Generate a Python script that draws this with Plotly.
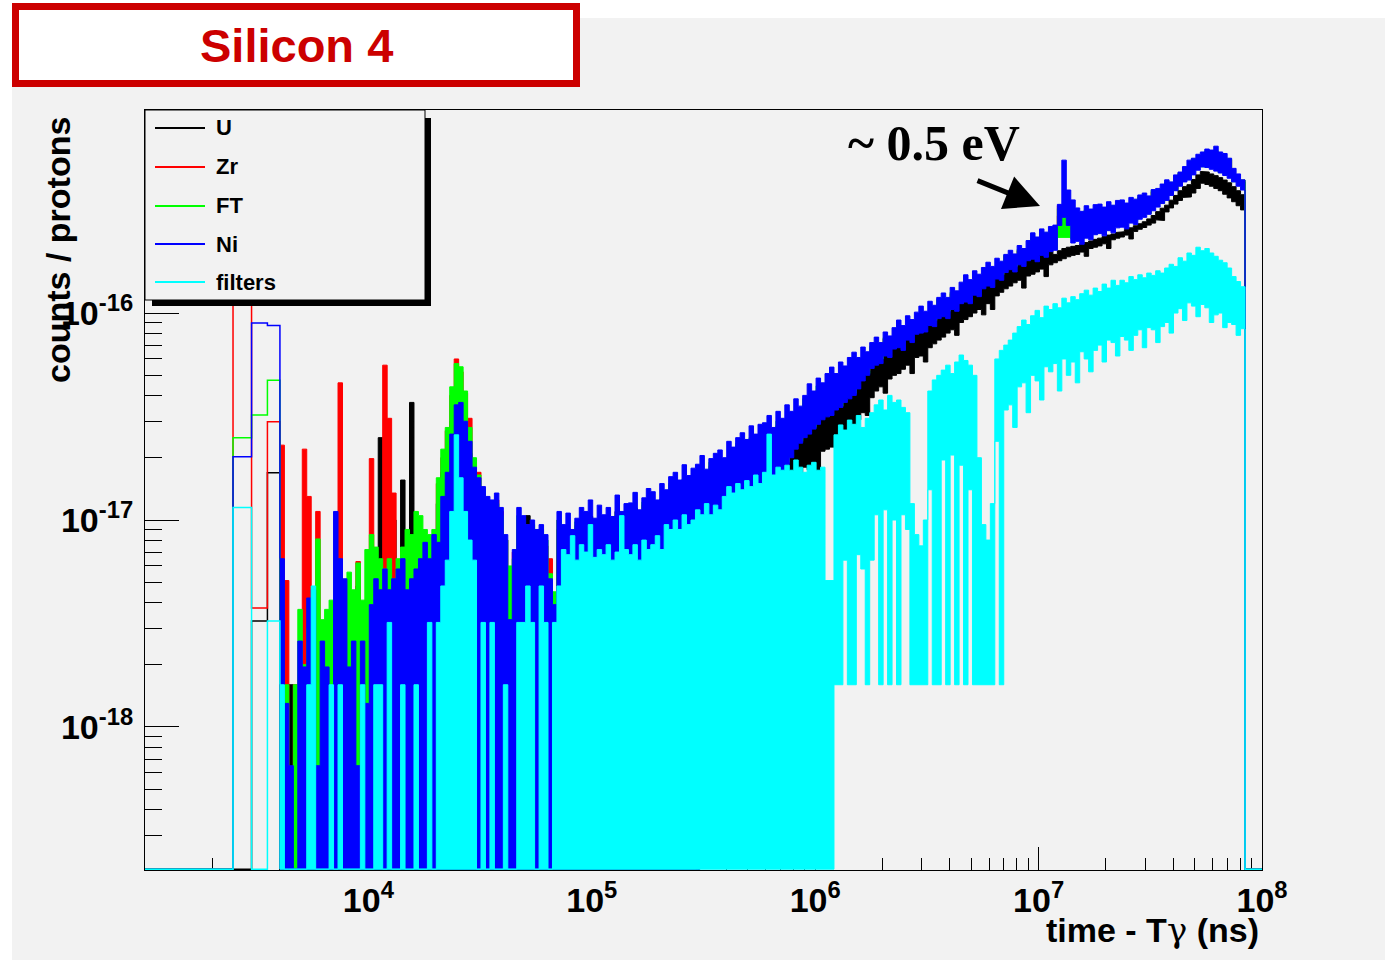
import plotly.graph_objects as go

# ---------------------------------------------------------------------------
# DATA  (all values: counts / protons in units of 1e-18; 0 = empty bin)
# ---------------------------------------------------------------------------
SERIES_NAMES = ["U", "Zr", "FT", "Ni", "filters"]
SERIES_COLORS = ["#000000", "#ff0000", "#00ff00", "#0000ff", "#00ffff"]
UNIT = 1e-18

# bin edges, log10(time - Tgamma [ns])
WIDE_EDGES = [3.394, 3.477, 3.548, 3.604]     # three wide first bins
FINE_START = 3.604                             # then a regular grid
FINE_STEP = 0.02
N_SPIKY = 63                                   # low-count region
N_BAND = 153                                   # dense band region
COARSE_GROUP = 3                               # Zr / FT band values span 3 fine bins

u_wide = [0, 3.25, 16.9]
zr_wide = [180, 3.76, 29.8]
ft_wide = [25, 32.2, 47.4]
ni_wide = [20.2, 89.5, 87.0]
filters_wide = [11.5, 0, 3.25]

u_spiky = [1.6, 0, 1.6, 0, 1.6, 1.6, 3.2, 1.6, 3.2, 1.6,
           3.2, 1.6, 3.2, 6.1, 4.8, 3.2, 1.6, 4.8, 3.2, 3.2,
           4.8, 6.4, 25, 4.8, 6.4, 10, 4.8, 15.6, 6.4, 37,
           8, 6.4, 6.4, 8, 8, 12, 17, 22, 30, 40,
           38, 28, 21, 16, 13, 11, 10, 9.5, 10, 9,
           4.8, 1.6, 0, 9, 8, 10.5, 8, 7.5, 8, 6.4,
           1.6, 0, 9]
zr_spiky = [23, 5.1, 0, 1.6, 1.6, 22, 13, 3.3, 11, 2.6,
            3.3, 1.6, 3.3, 46, 3.3, 4.1, 3.3, 6.3, 3.3, 4.1,
            19.8, 5.2, 6.0, 56, 31, 13.5, 5.2, 7.0, 6.0, 6.5,
            7.2, 8.0, 7.5, 8.0, 8.5, 15, 20, 27, 40, 60,
            52, 41, 31, 19, 17, 14, 12, 11.5, 12.5, 11,
            8, 5, 7, 10, 9, 9.5, 9, 8.5, 8.5, 7.5,
            6.5, 4, 10]
ft_spiky = [1.6, 1.6, 0, 1.6, 3.7, 2.0, 3.0, 3.3, 8.1, 3.3,
            3.7, 4.1, 3.3, 4.6, 3.7, 5.6, 4.6, 6.2, 4.1, 7.2,
            8.5, 7.4, 6.5, 5.8, 6.5, 5.2, 6.5, 7.4, 9.0, 8.5,
            11, 10.5, 9, 8.5, 9, 16, 22, 28, 44, 57,
            55, 42, 28, 20, 16.5, 14, 12, 11.5, 12, 10.5,
            8, 6, 6.5, 10.5, 9.5, 9, 9.5, 8.5, 9, 8,
            5.5, 4.5, 10]
ni_spiky = [6.5, 1.3, 0.65, 0, 2.6, 1.95, 4.2, 4.6, 0.65, 2.6,
            1.95, 0, 11, 6.5, 5.2, 1.95, 2.6, 0.65, 2.6, 1.3,
            3.9, 5.2, 4.6, 5.8, 4.6, 5.2, 5.8, 6.5, 4.6, 5.2,
            5.8, 6.5, 7.8, 6.5, 8.5, 7.8, 13, 17, 26, 36,
            37, 30, 24, 18, 16, 14.5, 13, 12.5, 13.5, 11.5,
            8.5, 3.3, 7.2, 11.5, 10.5, 9.5, 10, 9, 9.5, 8.5,
            5.2, 3.9, 11]
filters_spiky = [1.6, 0, 0, 0, 0, 0, 1.6, 4.8, 0, 0,
                 0, 1.6, 0, 1.6, 0, 0, 0, 0, 1.6, 0,
                 0, 1.6, 1.6, 0, 3.2, 0, 0, 1.6, 0, 0,
                 1.6, 0, 0, 3.2, 0, 3.2, 4.8, 6.4, 11, 25.8,
                 16, 11, 8, 6.4, 0, 3.2, 0, 3.2, 0, 0,
                 1.6, 0, 0, 3.2, 3.2, 4.8, 3.2, 0, 4.8, 3.2,
                 0, 3.2, 4.8]

# band region: upper / lower edge of the noise band in each bin
ni_band_hi = [9.5, 10.8, 9.0, 10.2, 11.5, 11.0, 12.5, 10.2, 11.8, 10.6,
              11.5, 10.4, 13.2, 11.0, 12.0, 12.1, 13.6, 11.2, 12.8, 14.2,
              13.7, 12.5, 15.0, 14.0, 16.2, 17.0, 15.6, 18.5, 16.4, 17.8,
              18.6, 20.5, 17.6, 19.8, 21.0, 21.8, 20.0, 24.0, 22.5, 25.0,
              26.4, 24.5, 28.5, 26.0, 29.0, 29.5, 32.0, 28.0, 33.5, 31.0,
              36, 33.5, 38.5, 35.5, 40, 45.5, 42, 48.5, 46, 51,
              54.8, 51, 58, 55.5, 61, 64.7, 61, 68.5, 65, 72,
              76.5, 72, 81, 77.5, 85, 92.5, 87, 97, 93, 101,
              108, 102, 114, 109, 119, 125, 119, 133, 128, 141,
              153, 145, 160, 154, 166, 176, 168, 184, 178, 192,
              201, 193, 212, 205, 224, 244, 233, 255, 246, 262,
              266, 335, 548, 393, 352, 322, 310, 330, 318, 334,
              336, 325, 345, 332, 350, 352, 340, 362, 355, 372,
              380, 368, 395, 400, 420, 440, 430, 465, 480, 510,
              548, 560, 585, 600, 620, 613, 640, 600, 590, 560,
              500, 470, 440]
ni_band_lo = [0] * 31 + [
              3.3, 4.1, 3.3, 4.6, 4.1, 5.2, 4.6, 5.7, 5.2,
              7.2, 6.4, 8.5, 9.5, 8.0, 11, 12.5, 11.5, 14, 16,
              18.5, 20, 22, 23.5, 25, 26, 27.5, 29, 30.5, 31.5,
              32, 34, 35, 37, 38.5, 40, 43, 47, 50, 54,
              56, 57, 62, 61, 67, 68, 66, 74, 72, 79,
              80, 81, 87, 86, 94, 96, 94, 104, 102, 111,
              113, 111, 122, 120, 131, 135, 133, 146, 144, 157,
              162, 158, 171, 168, 179, 182, 177, 190, 186, 198,
              201, 265, 290, 265, 218, 222, 215, 230, 226, 239,
              242, 236, 250, 244, 258, 260, 255, 272, 268, 284,
              290, 300, 312, 325, 338, 350, 370, 390, 410, 430,
              439, 465, 490, 508, 505, 495, 485, 475, 462, 448,
              430, 410, 393]

u_band_hi = [8.2, 9.0, 7.8, 8.8, 9.5, 9.4, 10.4, 8.8, 9.8, 9.0,
             9.8, 9.0, 11.0, 9.4, 10.2, 10.4, 11.4, 9.6, 10.8, 12.0,
             11.6, 10.6, 12.6, 12.0, 13.6, 14.4, 13.2, 15.6, 14.0, 15.0,
             15.8, 17.2, 15.0, 16.8, 17.6, 18.4, 17.0, 20.0, 19.0, 21.0,
             22.0, 20.8, 24.0, 22.0, 24.5, 25.0, 27.0, 23.8, 28.0, 26.5,
             22, 24, 26, 28, 30, 29, 30.5, 32, 33.5, 35,
             35.5, 37.5, 38.5, 40.5, 42.5, 44, 47, 52, 55, 59,
             62, 65, 68, 71.5, 74, 75, 78, 81, 85, 87,
             88, 92, 96, 100, 103, 106, 110, 114, 119, 122,
             124, 129, 134, 140, 144, 148, 154, 160, 167, 173,
             178, 184, 188, 192, 197, 200, 205, 209, 213, 216,
             192, 200, 205, 208, 210, 212, 215, 219, 223, 227,
             230, 234, 238, 241, 245, 247, 253, 258, 264, 270,
             276, 285, 296, 309, 321, 332, 351, 370, 390, 408,
             417, 442, 465, 483, 480, 470, 461, 451, 439, 426,
             408, 390, 373]
u_band_lo = [0] * 31 + [
             2.6, 3.3, 2.6, 3.3, 3.3, 4.1, 3.3, 4.6, 4.1,
             5.2, 5.7, 6.4, 6.0, 7.2, 8.5, 10, 9.0, 11.2, 12.5,
             13.5, 14.5, 14, 17, 18, 17.5, 19, 17, 21.5, 22,
             22.5, 23.5, 25, 22, 27, 28, 30.5, 33, 32, 39,
             42, 44, 41, 48, 50, 51, 53.5, 56, 51, 61,
             62, 58, 68, 71, 74, 76.5, 80, 83, 78, 90,
             93, 96, 100, 104, 98, 111, 104, 121, 126, 131,
             135, 140, 144, 132, 151, 154, 158, 163, 150, 171,
             175, 179, 183, 187, 190, 192, 197, 188, 205, 208,
             211, 216, 205, 226, 230, 233, 238, 228, 248, 254,
             259, 266, 272, 282, 280, 308, 322, 336, 350, 362,
             364, 380, 400, 424, 418, 410, 400, 390, 375, 360,
             345, 330, 315]

filters_band_hi = [7.2, 6.8, 8.4, 6.4, 7.6, 7.0, 9.5, 6.6, 7.2, 6.8,
                   7.6, 6.4, 7.0, 10.5, 7.2, 6.8, 7.6, 6.4, 8.0, 7.2,
                   7.6, 8.4, 7.2, 9.5, 9.0, 10.0, 9.0, 10.6, 9.5, 10.0,
                   11.2, 10.6, 12.0, 10.6, 11.8, 11.2, 13.0, 14.5, 13.5, 15.0,
                   14.0, 15.5, 14.5, 16.5, 15.0, 17.0, 26.0, 16.5, 18.0, 17.4,
                   18.4, 17.4, 19.5, 18.0, 17.0, 18.4, 19.0, 17.4, 18.0, 5.1,
                   5.1, 25.8, 28.8, 27.2, 30.4, 29, 32, 28, 31, 33,
                   36, 38, 34, 40, 37, 38, 35, 33, 12, 8.5,
                   7.5, 10, 42, 47.5, 50, 53, 56, 51, 58, 62.7,
                   59, 56, 50, 20, 9.5, 8, 12, 60, 66, 70,
                   74, 80, 86, 92.5, 88, 97, 103, 95, 108, 104,
                   111, 106, 118, 112, 120, 116, 124, 129, 122, 132,
                   127, 138, 132, 144, 136, 144, 140, 150, 145, 153,
                   148, 156, 152, 160, 156, 165, 172, 168, 185, 178,
                   195, 190, 208, 200, 205, 195, 188, 180, 175, 165,
                   150, 142, 134]
filters_band_lo = [0] * 61 + [
                   1.6, 1.6, 6.4, 1.6, 1.6, 6.8, 5.8, 1.6, 6.4,
                   10.6, 1.6, 11.2, 1.6, 10.0, 1.6, 10.6, 9.0, 1.6, 1.6,
                   1.6, 1.6, 14, 1.6, 1.6, 19.5, 1.6, 20.6, 1.6, 18.4,
                   1.6, 14.0, 1.6, 1.6, 1.6, 1.6, 1.6, 24, 1.6, 34,
                   36, 28, 44, 46, 33, 50, 47, 38, 55, 52,
                   57, 42, 60, 50, 58, 46, 65, 60, 52, 66,
                   70, 58, 74, 72, 62, 77, 74, 66, 78, 83,
                   68, 85, 83, 72, 86, 90, 80, 100, 105, 92,
                   112, 108, 96, 110, 106, 90, 98, 100, 85, 90,
                   88, 78, 84]

# Zr and FT in the band region (mostly hidden under Ni), one value per 3 bins
zr_band_hi = [8.3, 9.4, 9.4, 9.6, 10.1, 10.3, 11.8, 11.5, 14.3, 15.1,
              16.2, 18.2, 18.4, 22.5, 23.9, 25.8, 28.5, 30.8, 36.8, 42.3,
              47, 51, 56, 66, 75, 84, 90, 99, 115, 124,
              140, 150, 165, 188, 200, 228, 240, 330, 300, 310,
              318, 325, 332, 360, 385, 425, 472, 550, 600, 550,
              438]
zr_band_lo = [0, 0, 0, 0, 0, 0, 0, 0, 0, 0,
              4.3, 4.8, 6.0, 7.6, 10, 13.1, 19.4, 24.7, 28.9, 33,
              36.8, 42, 52.5, 62, 69, 76, 82, 93, 103, 113,
              125, 137, 154, 170, 182, 195, 205, 295, 232, 245,
              255, 265, 283, 305, 345, 395, 445, 512, 515, 480,
              432]
ft_band_hi = [8.6, 9.8, 9.8, 10.0, 10.6, 10.8, 12.2, 12.0, 15.0, 15.8,
              17.0, 19.0, 19.5, 23.5, 25.0, 27.0, 30.0, 32.5, 38.5, 44.5,
              49.5, 53.5, 58.5, 69, 76, 85, 91, 100, 117, 126,
              143, 152, 166, 190, 203, 231, 244, 320, 305, 315,
              322, 330, 336, 365, 392, 428, 476, 556, 608, 556,
              439]
ft_band_lo = [0, 0, 0, 0, 0, 0, 0, 0, 0, 0,
              4.2, 4.7, 5.8, 7.4, 9.8, 12.8, 19, 24, 28, 32,
              35.5, 41, 51, 60, 68, 75, 81, 92, 102, 112,
              124, 136, 153, 168, 181, 192, 203, 232, 228, 241,
              252, 262, 280, 302, 340, 392, 441, 510, 508, 477,
              431]

X_TICK_VALUES = [1e3, 1e4, 1e5, 1e6, 1e7, 1e8]
X_TICK_LABELS = ["", "10<sup>4</sup>", "10<sup>5</sup>", "10<sup>6</sup>",
                 "10<sup>7</sup>", "10<sup>8</sup>"]
Y_TICK_VALUES = [1e-18, 1e-17, 1e-16]
Y_TICK_LABELS = ["10<sup>-18</sup>", "10<sup>-17</sup>", "10<sup>-16</sup>"]

# ---------------------------------------------------------------------------
# FIGURE
# ---------------------------------------------------------------------------
X_RANGE = [3.0, 8.0]
Y_RANGE = [-18.691, -15.019]
FLOOR = 10 ** (Y_RANGE[0] + 0.004)

fine_edges = [FINE_START + FINE_STEP * k for k in range(N_SPIKY + N_BAND + 1)]


def yv(v):
    return v * UNIT if v > 0 else FLOOR


def expand(arr, g):
    return [v for v in arr for _ in range(g)]


fig = go.Figure()


def add_series(color, wide, spiky, band_hi, band_lo, group):
    hi = list(spiky) + expand(band_hi, group)
    lo = [0] * len(spiky) + expand(band_lo, group)
    # outline of the first wide bins
    ox = [10 ** X_RANGE[0], 10 ** WIDE_EDGES[0]]
    oy = [FLOOR, FLOOR]
    for i, w in enumerate(wide):
        ox += [10 ** WIDE_EDGES[i], 10 ** WIDE_EDGES[i + 1]]
        oy += [yv(w), yv(w)]
    ox.append(10 ** fine_edges[0])
    oy.append(yv(hi[0]))
    fig.add_trace(go.Scatter(x=ox, y=oy, mode="lines",
                             line=dict(color=color, width=1.5),
                             hoverinfo="skip", showlegend=False))
    # dense histogram drawn as a filled band
    px = [10 ** fine_edges[0]]
    py = [FLOOR]
    for d in range(len(hi)):
        px += [10 ** fine_edges[d], 10 ** fine_edges[d + 1]]
        py += [yv(hi[d])] * 2
    for d in range(len(hi) - 1, -1, -1):
        l = min(lo[d], hi[d])
        px += [10 ** fine_edges[d + 1], 10 ** fine_edges[d]]
        py += [yv(l)] * 2
    px.append(10 ** fine_edges[0])
    py.append(FLOOR)
    fig.add_trace(go.Scatter(x=px, y=py, mode="lines", fill="toself",
                             fillcolor=color, line=dict(color=color, width=1),
                             hoverinfo="skip", showlegend=False))
    # drop to zero at the end
    end = 10 ** fine_edges[-1]
    fig.add_trace(go.Scatter(x=[end, end, 10 ** X_RANGE[1]],
                             y=[yv(min(lo[-1], hi[-1])), FLOOR, FLOOR],
                             mode="lines", line=dict(color=color, width=1.5),
                             hoverinfo="skip", showlegend=False))


add_series(SERIES_COLORS[0], u_wide, u_spiky, u_band_hi, u_band_lo, 1)
add_series(SERIES_COLORS[1], zr_wide, zr_spiky, zr_band_hi, zr_band_lo, COARSE_GROUP)
add_series(SERIES_COLORS[2], ft_wide, ft_spiky, ft_band_hi, ft_band_lo, COARSE_GROUP)
add_series(SERIES_COLORS[3], ni_wide, ni_spiky, ni_band_hi, ni_band_lo, 1)
add_series(SERIES_COLORS[4], filters_wide, filters_spiky, filters_band_hi, filters_band_lo, 1)

W, H = 1385, 960
L, R, T, B = 145, 123, 110, 90
PW, PH = W - L - R, H - T - B


def pxx(x):
    return (x - L) / PW


def pxy(y):
    return (H - B - y) / PH


x_minor = [k * 10 ** e for e in range(3, 8) for k in range(2, 10)]
y_minor = [k * 10 ** e for e in range(-19, -15) for k in range(2, 10)]

FONT = "Liberation Sans"
shapes = [
    # grey canvas area
    dict(type="rect", xref="paper", yref="paper", layer="below",
         x0=pxx(12), x1=pxx(W), y0=pxy(H), y1=pxy(18),
         fillcolor="#f2f2f2", line=dict(width=0)),
    # title box
    dict(type="rect", xref="paper", yref="paper", layer="above",
         x0=pxx(15.5), x1=pxx(576.5), y0=pxy(83.5), y1=pxy(6.5),
         fillcolor="white", line=dict(color="#cc0000", width=7)),
    # legend shadow
    dict(type="rect", xref="paper", yref="paper", layer="above",
         x0=pxx(425), x1=pxx(431), y0=pxy(306), y1=pxy(118),
         fillcolor="black", line=dict(width=0)),
    dict(type="rect", xref="paper", yref="paper", layer="above",
         x0=pxx(152), x1=pxx(431), y0=pxy(306), y1=pxy(300),
         fillcolor="black", line=dict(width=0)),
    # legend box
    dict(type="rect", xref="paper", yref="paper", layer="above",
         x0=pxx(145), x1=pxx(425), y0=pxy(300), y1=pxy(110),
         fillcolor="#f2f2f2", line=dict(color="black", width=1)),
]
GAMMA = "<span style=\"font-family:'DejaVu Serif';font-weight:normal\">\u03b3</span>"
annotations = [
    dict(text="<b>Silicon 4</b>", xref="paper", yref="paper",
         x=pxx(296), y=pxy(46), showarrow=False, xanchor="center", yanchor="middle",
         font=dict(family=FONT, size=47, color="#cc0000")),
    dict(text="<b>counts / protons</b>", xref="paper", yref="paper",
         x=pxx(58), y=pxy(250), showarrow=False, textangle=-90,
         xanchor="center", yanchor="middle",
         font=dict(family=FONT, size=34, color="black")),
    dict(text="<b>time - T</b>" + GAMMA + "<b> (ns)</b>", xref="paper", yref="paper",
         x=pxx(1261), y=pxy(930), showarrow=False, xanchor="right", yanchor="middle",
         font=dict(family=FONT, size=34, color="black")),
    dict(text="<b>~ 0.5 eV</b>", xref="paper", yref="paper",
         x=pxx(934), y=pxy(143), showarrow=False, xanchor="center", yanchor="middle",
         font=dict(family="Liberation Serif", size=50, color="black")),
    dict(text="", xref="paper", yref="paper", x=pxx(1040), y=pxy(206),
         ax=-64, ay=-26, axref="pixel", ayref="pixel", showarrow=True,
         arrowhead=2, arrowsize=1.4, arrowwidth=5, arrowcolor="black"),
]
leg_y = [128, 167, 206, 244, 282]
for name, color, yy in zip(SERIES_NAMES, SERIES_COLORS, leg_y):
    shapes.append(dict(type="line", xref="paper", yref="paper", layer="above",
                       x0=pxx(155), x1=pxx(205), y0=pxy(yy), y1=pxy(yy),
                       line=dict(color=color, width=2)))
    annotations.append(dict(text="<b>%s</b>" % name, xref="paper", yref="paper",
                            x=pxx(214), y=pxy(yy), showarrow=False,
                            xanchor="left", yanchor="middle",
                            font=dict(family=FONT, size=22, color="black")))

axis_common = dict(type="log", showgrid=False, zeroline=False, showline=True,
                   linecolor="black", linewidth=1, mirror=True, ticks="inside",
                   tickcolor="black", tickwidth=1, layer="below traces",
                   automargin=False,
                   tickfont=dict(family=FONT, size=34, color="black"))

fig.update_layout(
    width=W, height=H, margin=dict(l=L, r=R, t=T, b=B),
    paper_bgcolor="white", plot_bgcolor="#f2f2f2",
    showlegend=False,
    xaxis=dict(axis_common, range=X_RANGE, tickmode="array",
               tickvals=X_TICK_VALUES,
               ticktext=["<b>%s</b>" % t if t else "" for t in X_TICK_LABELS],
               ticklen=23,
               minor=dict(tickmode="array", tickvals=x_minor, ticks="inside",
                          ticklen=12, tickcolor="black", tickwidth=1)),
    yaxis=dict(axis_common, range=Y_RANGE, tickmode="array",
               tickvals=Y_TICK_VALUES,
               ticktext=["<b>%s</b>" % t for t in Y_TICK_LABELS],
               ticklen=34, ticklabelstandoff=4,
               minor=dict(tickmode="array", tickvals=y_minor, ticks="inside",
                          ticklen=17, tickcolor="black", tickwidth=1)),
    shapes=shapes, annotations=annotations,
)

fig.write_html("out.html")
